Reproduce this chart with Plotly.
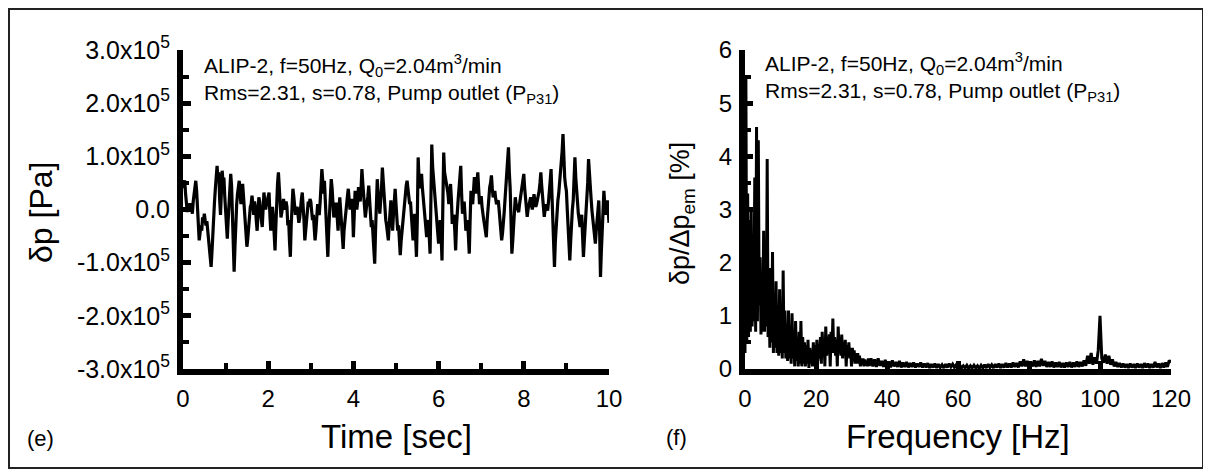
import plotly.graph_objects as go

# the page body adds an 8 px margin, so the figure is 8 px smaller than the window
OFF = 8
W, H = 1211 - OFF, 474 - OFF

# ---- (e) pressure fluctuation vs time, one value every 0.02 s (kPa)
dt = 0.02
dp_kpa = [
    40, 52, 55, 30, 10, -5, 8, -3, 12, 0,
    5, -8, 15, 25, 40, 54, 35, 5, -30, -58,
    -45, -30, -40, -15, -25, -8, -20, -30, -22, -40,
    -60, -75, -95, -108, -80, -40, -10, 15, 40, 60,
    82, 55, 70, 20, -10, 30, 73, 50, 60, 25,
    -10, -30, -55, -20, 10, 40, 67, 45, -10, -60,
    -117, -70, -20, 10, 30, 40, 54, 30, 10, 35,
    48, 25, 5, -20, -50, -70, -55, -30, -10, 5,
    10, 26, 10, -10, 15, 5, -20, -40, -10, 23,
    15, -10, -20, -33, 10, 32, 15, 0, 10, 20,
    25, 32, -10, -40, -15, 5, -15, -40, -77, -30,
    20, 50, 70, 35, 5, -15, -5, 10, 20, 5,
    0, 15, 5, -30, -20, -60, -89, -30, 20, 39,
    25, 10, -10, 0, 5, -10, -25, -15, 10, 20,
    32, 10, -20, -58, -35, -10, 10, 15, 5, 20,
    15, 0, -20, -10, -35, -58, -40, 0, 10, -8,
    -8, 15, 40, 76, 55, 30, 54, 20, -40, -70,
    -89, -40, 0, 30, 57, 40, 20, -15, 0, 10,
    10, -10, -40, -5, 23, 0, -20, -50, -74, -40,
    -20, 0, 15, 25, 39, 20, 0, 10, 20, 0,
    -52, -10, 35, 20, 0, 15, 42, 30, 15, 40,
    76, 50, 30, 10, -15, 0, 10, 25, 45, 20,
    0, -33, -20, -60, -80, -102, -40, 10, 57, 30,
    20, -8, 10, 40, 79, 50, 20, -8, -20, -30,
    -45, -58, -30, 0, 17, -10, -40, -10, 20, 39,
    10, -15, -40, -30, -60, -86, -60, -40, -27, -10,
    10, 30, 45, 54, 40, 30, 10, 15, -10, -30,
    -58, -30, -8, -50, -89, -20, 98, 60, 40, 55,
    67, 40, 23, 10, -10, -30, -52, -30, -20, -50,
    -83, 20, 122, 80, 60, 40, 23, 0, -30, -45,
    -64, -40, -20, -50, -96, 10, 107, 70, 60, 50,
    48, 30, 10, 30, 48, 20, -27, -15, -10, -40,
    -77, -30, 4, 20, 40, 60, 82, 30, -8, 5,
    15, -10, -40, -30, -20, -50, -83, -20, 35, 20,
    10, 35, 61, 45, 30, 50, 70, 40, 10, 20,
    25, 5, -15, -20, -30, -40, -52, -20, 10, 25,
    42, 50, 64, 40, 23, 30, 35, 20, 10, 15,
    17, 0, -20, -40, -58, -45, -30, -5, 20, 40,
    60, 90, 117, 70, 40, -20, -83, -60, -30, 0,
    23, 10, 5, 0, -5, 10, 20, 30, 40, 55,
    67, 40, 20, 0, -14, 0, 10, 15, 23, 10,
    0, 15, 29, 15, 5, 10, 17, 25, 35, 50,
    70, 45, 20, 0, -14, 0, 10, 5, -2, 15,
    30, 55, 76, 20, -40, -80, -108, -60, -30, -5,
    17, 30, 50, 65, 79, 110, 142, 90, 60, 45,
    35, 0, -40, -70, -96, -60, -20, 0, 17, 60,
    98, 60, 30, 10, -8, -20, -33, -20, -10, -50,
    -89, -60, -30, -10, 4, 50, 95, 60, 40, 20,
    -2, -15, -30, -45, -64, -40, -20, 0, 17, -40,
    -127, -80, -40, 0, 35, 10, -10, 5, 17, 0,
    -25,
]
time_s = [round(i * dt, 2) for i in range(len(dp_kpa))]
dp_pa = [v * 1000 for v in dp_kpa]

# ---- (f) spectrum [%]: 0.25 Hz steps up to 35 Hz, then 0.5 Hz steps to 120 Hz
spec_low = [
    0.3, 5.5, 0.5, 3.3, 0.6, 2.8, 0.7, 3.0, 0.8, 2.0,
    0.9, 3.6, 0.7, 4.55, 0.9, 4.3, 1.2, 2.1, 0.65, 1.8,
    0.7, 2.6, 0.7, 1.6, 0.8, 3.95, 0.6, 1.4, 0.4, 1.9,
    0.5, 2.2, 0.3, 1.3, 0.4, 1.65, 0.3, 1.2, 0.25, 1.5,
    0.3, 1.0, 0.2, 1.85, 0.3, 1.1, 0.2, 0.8, 0.15, 1.1,
    0.2, 0.7, 0.1, 1.05, 0.2, 0.6, 0.05, 0.9, 0.15, 0.5,
    0.05, 0.7, 0.1, 0.9, 0.05, 0.6, 0.1, 0.5, 0.05, 0.45,
    0.1, 0.55, 0.02, 0.4, 0.1, 0.35, 0.05, 0.5, 0.1, 0.45,
    0.1, 0.55, 0.15, 0.4, 0.2, 0.6, 0.1, 0.7, 0.25, 0.55,
    0.05, 0.8, 0.25, 0.6, 0.3, 0.65, 0.05, 0.7, 0.3, 0.95,
    0.3, 0.6, 0.25, 0.55, 0.05, 0.8, 0.3, 0.6, 0.25, 0.65,
    0.2, 0.5, 0.3, 0.55, 0.05, 0.45, 0.25, 0.5, 0.2, 0.4,
    0.05, 0.4, 0.15, 0.35, 0.1, 0.3, 0.1, 0.3, 0.1, 0.25,
    0.05, 0.2, 0.08, 0.2, 0.05, 0.18, 0.06, 0.15, 0.05, 0.2,
    0.06,
]
spec_high = [
    0.2, 0.05, 0.18, 0.04, 0.2, 0.06, 0.15, 0.04, 0.17, 0.05,
    0.14, 0.03, 0.16, 0.05, 0.13, 0.04, 0.15, 0.03, 0.12, 0.04,
    0.13, 0.03, 0.11, 0.04, 0.12, 0.03, 0.1, 0.04, 0.12, 0.03,
    0.1, 0.03, 0.11, 0.02, 0.09, 0.03, 0.1, 0.02, 0.09, 0.03,
    0.08, 0.02, 0.09, 0.03, 0.1, 0.04, 0.09, 0.03, 0.08, 0.02,
    0.07, 0.02, 0.06, 0.02, 0.07, 0.01, 0.06, 0.02, 0.07, 0.02,
    0.06, 0.01, 0.07, 0.02, 0.08, 0.02, 0.09, 0.03, 0.08, 0.02,
    0.09, 0.03, 0.1, 0.02, 0.09, 0.03, 0.11, 0.03, 0.1, 0.03,
    0.12, 0.04, 0.11, 0.03, 0.14, 0.05, 0.18, 0.05, 0.15, 0.04,
    0.13, 0.05, 0.16, 0.04, 0.15, 0.05, 0.19, 0.06, 0.15, 0.04,
    0.13, 0.04, 0.14, 0.03, 0.12, 0.04, 0.13, 0.03, 0.11, 0.03,
    0.12, 0.04, 0.13, 0.03, 0.12, 0.04, 0.14, 0.04, 0.13, 0.05,
    0.16, 0.06, 0.25, 0.1, 0.3, 0.08, 0.22, 0.1, 0.35, 1.0,
    0.2, 0.12, 0.27, 0.1, 0.25, 0.08, 0.18, 0.05, 0.13, 0.04,
    0.11, 0.03, 0.1, 0.03, 0.09, 0.02, 0.1, 0.03, 0.09, 0.02,
    0.1, 0.03, 0.09, 0.02, 0.11, 0.03, 0.1, 0.02, 0.09, 0.03,
    0.13, 0.03, 0.1, 0.02, 0.11, 0.03, 0.12, 0.04, 0.16, 0.12,
]
freq_hz = [i * 0.25 for i in range(len(spec_low))] + \
          [35.5 + i * 0.5 for i in range(len(spec_high))]
amp_pct = spec_low + spec_high

y_ticks = [-3e5, -2e5, -1e5, 0, 1e5, 2e5, 3e5]
y_ticktext = ["-3.0x10<sup>5</sup>", "-2.0x10<sup>5</sup>", "-1.0x10<sup>5</sup>", "0.0",
              "1.0x10<sup>5</sup>", "2.0x10<sup>5</sup>", "3.0x10<sup>5</sup>"]

info1 = "ALIP-2, f=50Hz, Q<sub>0</sub>=2.04m<sup>3</sup>/min"
info2 = "Rms=2.31, s=0.78, Pump outlet (P<sub>P31</sub>)"

FONT = "Liberation Sans, Arial, sans-serif"


# window pixel -> paper fraction
def px(x):
    return (x - OFF) / W


def py(y):
    return 1 - (y - OFF) / H


fig = go.Figure()
fig.add_trace(go.Scatter(x=time_s, y=dp_pa, mode="lines",
                         line=dict(color="black", width=3.2), xaxis="x", yaxis="y"))
fig.add_trace(go.Scatter(x=freq_hz, y=amp_pct, mode="lines",
                         line=dict(color="black", width=3), xaxis="x2", yaxis="y2"))

axis_common = dict(showline=True, linewidth=6, linecolor="black", mirror=False,
                   ticks="inside", ticklen=8, tickwidth=5, tickcolor="black",
                   showgrid=False, zeroline=False, automargin=False,
                   tickfont=dict(family=FONT, size=24, color="black"))


def minor(step):
    return dict(ticks="inside", ticklen=6, tickwidth=4, tickcolor="black", dtick=step, tick0=0)


ydom = [py(369), py(50)]

fig.update_layout(
    width=W, height=H, showlegend=False,
    paper_bgcolor="white", plot_bgcolor="white",
    margin=dict(l=0, r=0, t=0, b=0, pad=0, autoexpand=False),
    xaxis=dict(domain=[px(183), px(609)], range=[0, 10], tickvals=[0, 2, 4, 6, 8, 10],
               anchor="y", minor=minor(1), ticklabelstandoff=3, **axis_common),
    yaxis=dict(domain=ydom, range=[-3e5, 3e5], tickvals=y_ticks, ticktext=y_ticktext,
               anchor="x", minor=minor(5e4), ticklabelstandoff=2, **axis_common),
    xaxis2=dict(domain=[px(745), px(1171)], range=[0, 120],
                tickvals=[0, 20, 40, 60, 80, 100, 120],
                anchor="y2", ticklabelstandoff=3, **axis_common),
    yaxis2=dict(domain=ydom, range=[0, 6], tickvals=[0, 1, 2, 3, 4, 5, 6],
                anchor="x2", minor=minor(0.5), ticklabelstandoff=2, **axis_common),
)
fig.update_yaxes(tickfont_size=25, selector=dict(anchor="x"))

ann_font = dict(family=FONT, size=21, color="black")
annotations = [
    dict(text=info1, x=px(202), y=py(66), xanchor="left", yanchor="middle", font=ann_font),
    dict(text=info2, x=px(202), y=py(94), xanchor="left", yanchor="middle", font=ann_font),
    dict(text=info1, x=px(763), y=py(64), xanchor="left", yanchor="middle", font=ann_font),
    dict(text=info2, x=px(763), y=py(92), xanchor="left", yanchor="middle", font=ann_font),
    dict(text="Time [sec]", x=px(396), y=py(436), xanchor="center", yanchor="middle",
         font=dict(family=FONT, size=33, color="black")),
    dict(text="Frequency [Hz]", x=px(958), y=py(436), xanchor="center", yanchor="middle",
         font=dict(family=FONT, size=33, color="black")),
    dict(text="δp [Pa]", x=px(41), y=py(213), xanchor="center", yanchor="middle",
         textangle=-90, font=dict(family=FONT, size=32, color="black")),
    dict(text="δp/Δp<sub>em</sub> [%]", x=px(682), y=py(214), xanchor="center", yanchor="middle",
         textangle=-90, font=dict(family=FONT, size=27, color="black")),
    dict(text="(e)", x=px(40), y=py(438), xanchor="center", yanchor="middle",
         font=dict(family=FONT, size=22, color="black")),
    dict(text="(f)", x=px(676), y=py(437), xanchor="center", yanchor="middle",
         font=dict(family=FONT, size=22, color="black")),
]
for a in annotations:
    a.update(xref="paper", yref="paper", showarrow=False)
fig.update_layout(annotations=annotations)

# frame around the whole figure
fig.add_shape(type="rect", xref="paper", yref="paper",
              x0=px(9), x1=px(1203), y0=py(468), y1=py(9),
              line=dict(color="#222222", width=2))

fig.write_html("out.html")
